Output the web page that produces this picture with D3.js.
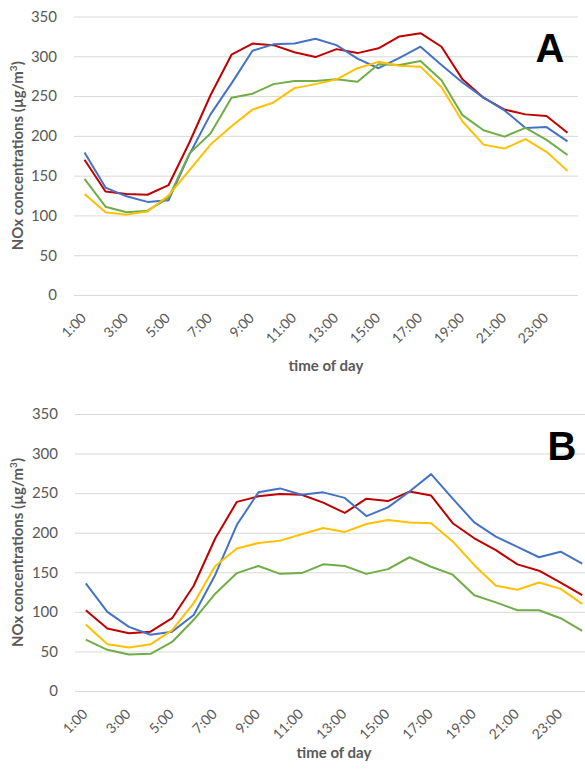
<!DOCTYPE html>
<html>
<head>
<meta charset="utf-8">
<script src="https://cdn.jsdelivr.net/npm/d3@7"></script>
<style>
  body { margin: 0; background: #fff; }
  svg { display: block; }
  .tick text { fill: #595959; font-family: Lato, "Open Sans", sans-serif; }
</style>
</head>
<body>
<div id="chart"><svg width="585" height="773"></svg></div>
<script>
// Data - hourly NOx concentrations (µg/m³)
let hours = d3.range(1, 25).map(h => h + ":00");
let hourTicks = hours.filter((h, i) => i % 2 == 0);
let yTicks = [0, 50, 100, 150, 200, 250, 300, 350];

let colors = ["#C00000", "#4472C4", "#70AD47", "#FFC000"];

// Panel A
let aRed    = [170, 130, 127, 126, 138, 192, 251, 302, 316, 314, 305, 299, 309, 304, 310, 325, 329, 312, 271, 248, 233, 227, 225, 204];
let aBlue   = [179, 135, 124, 117, 119, 177, 227, 266, 307, 315, 316, 322, 314, 297, 285, 298, 312, 289, 267, 248, 232, 210, 211, 193];
let aGreen  = [146, 111, 104, 106, 122, 178, 203, 248, 253, 265, 269, 269, 271, 268, 290, 289, 294, 270, 226, 207, 199, 210, 195, 176];
let aYellow = [127, 104, 101, 105, 125, 157, 189, 212, 233, 242, 260, 265, 271, 285, 293, 288, 287, 261, 218, 189, 184, 196, 180, 156];

// Panel B
let bRed    = [102, 79, 73, 75, 92, 133, 193, 239, 246, 249, 248, 238, 225, 243, 240, 252, 247, 212, 193, 178, 160, 152, 137, 121];
let bBlue   = [136, 100, 81, 71, 75, 96, 147, 210, 251, 256, 248, 251, 244, 221, 232, 252, 274, 243, 213, 195, 182, 169, 176, 161];
let bGreen  = [65, 52, 46, 47, 62, 90, 123, 149, 158, 148, 149, 160, 158, 148, 154, 169, 157, 147, 121, 112, 102, 102, 92, 76];
let bYellow = [84, 59, 55, 59, 77, 111, 158, 180, 187, 190, 198, 206, 201, 211, 216, 213, 212, 189, 159, 133, 128, 137, 129, 110];

let svg = d3.select("div#chart svg");

function drawPanel(opts, series) {
  let g = svg.append("g");

  let x = d3.scalePoint()
    .domain(hours)
    .range([opts.left, opts.right])
    .padding(0.5);
  let y = d3.scaleLinear()
    .domain([0, 350])
    .range([opts.bottom, opts.top]);

  // Gridlines + y labels
  g.append("g")
    .attr("class", "axis axis_y")
    .attr("transform", "translate(" + opts.left + ",0)")
    .call(d3.axisLeft(y).tickValues(yTicks).tickSize(-(opts.gridRight - opts.left)).tickPadding(17))
    .call(a => a.select(".domain").remove())
    .call(a => a.selectAll("line").attr("stroke", "#D9D9D9").attr("stroke-width", 1))
    .call(a => a.selectAll("text").style("font-size", "15px"));

  // X axis labels (odd hours)
  g.append("g")
    .attr("class", "axis axis_x")
    .attr("transform", "translate(0," + (opts.bottom + 26) + ")")
    .call(d3.axisBottom(x).tickValues(hourTicks).tickSize(0))
    .call(a => a.select(".domain").remove())
    .call(a => a.selectAll("text")
      .attr("y", 0)
      .attr("x", 3)
      .attr("dy", "0")
      .attr("transform", "rotate(-45)")
      .style("text-anchor", "end")
      .style("font-size", "14px"));

  let line = d3.line()
    .x((d, i) => x(hours[i]))
    .y(d => y(d));

  series.forEach((s, k) => {
    g.append("path")
      .datum(s)
      .attr("class", "line")
      .attr("d", line)
      .attr("fill", "none")
      .attr("stroke", colors[k])
      .attr("stroke-width", 2)
      .attr("stroke-linejoin", "round");
  });

  // Axis titles
  let yTitle = g.append("text")
    .attr("transform", "translate(23," + ((opts.top + opts.bottom) / 2) + ") rotate(-90)")
    .style("text-anchor", "middle")
    .style("font-family", "Lato, 'Open Sans', sans-serif")
    .style("font-weight", "bold")
    .style("font-size", "15px")
    .style("fill", "#595959");
  yTitle.append("tspan").text("NOx concentrations (µg/m");
  yTitle.append("tspan").attr("baseline-shift", "super").style("font-size", "10px").text("3");
  yTitle.append("tspan").text(")");

  g.append("text")
    .attr("x", (opts.left + opts.right) / 2)
    .attr("y", opts.xTitleY)
    .style("text-anchor", "middle")
    .style("font-family", "Lato, 'Open Sans', sans-serif")
    .style("font-weight", "bold")
    .style("font-size", "15px")
    .style("fill", "#595959")
    .text("time of day");

  // Panel letter
  g.append("text")
    .attr("x", opts.letterX)
    .attr("y", opts.letterY)
    .style("text-anchor", "middle")
    .style("font-family", "'Liberation Sans', Arial, sans-serif")
    .style("font-weight", "bold")
    .style("font-size", "40px")
    .style("fill", "#000")
    .text(opts.letter);
}

drawPanel({ left: 74, right: 578, gridRight: 578, top: 16.5, bottom: 295, xTitleY: 371, letter: "A", letterX: 550, letterY: 62 },
  [aRed, aBlue, aGreen, aYellow]);

drawPanel({ left: 75, right: 593, gridRight: 593, top: 414, bottom: 691, xTitleY: 758, letter: "B", letterX: 562, letterY: 460 },
  [bRed, bBlue, bGreen, bYellow]);
</script>
</body>
</html>
